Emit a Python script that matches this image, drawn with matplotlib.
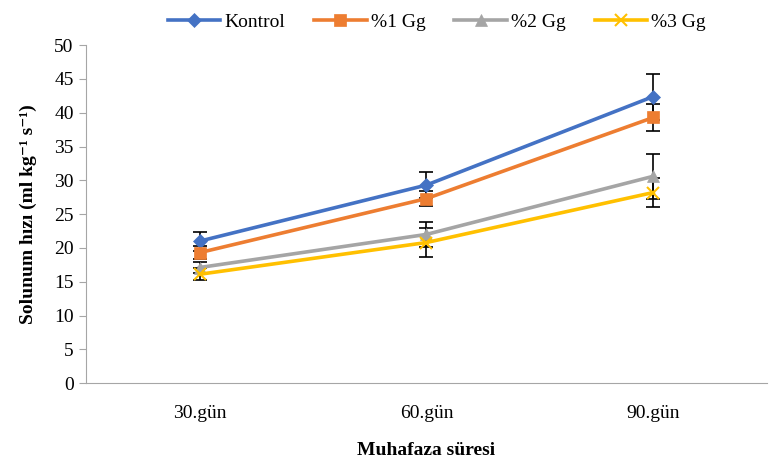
import matplotlib
matplotlib.use("Agg")
import matplotlib.pyplot as plt
import numpy as np

plt.rcParams['font.family'] = ['Liberation Serif', 'DejaVu Serif']

categories = ["30.gün", "60.gün", "90.gün"]
series_names = ["Kontrol", "%1 Gg", "%2 Gg", "%3 Gg"]
kontrol = [21.0, 29.3, 42.4]
gg1 = [19.3, 27.3, 39.3]
gg2 = [17.1, 22.0, 30.6]
gg3 = [16.1, 20.8, 28.2]
kontrol_err = [1.4, 1.9, 3.4]
gg1_err = [1.0, 1.1, 2.0]
gg2_err = [0.8, 1.9, 3.3]
gg3_err = [0.9, 2.1, 2.1]

values = [kontrol, gg1, gg2, gg3]
errors = [kontrol_err, gg1_err, gg2_err, gg3_err]
colors = ["#4472C4", "#ED7D31", "#A5A5A5", "#FFC000"]
markers = ["D", "s", "^", "x"]
msizes = [7, 9, 8, 8]

fs = 14

fig = plt.figure(figsize=(7.69, 4.61), dpi=100)
ax = fig.add_axes([0.112, 0.169, 0.885, 0.733])
x = np.arange(len(categories))

for vals, errs, c, m, ms, name in zip(values, errors, colors, markers, msizes, series_names):
    ax.errorbar(x, vals, yerr=errs, fmt='none', ecolor='black', elinewidth=1.2,
                capsize=5, capthick=1.2, zorder=2)
    ax.plot(x, vals, color=c, linewidth=2.6, marker=m, markersize=ms,
            markeredgewidth=1.5 if m == 'x' else 0.5, markeredgecolor=c,
            label=name, zorder=3)

ax.set_xlim(-0.5, 2.5)
ax.set_ylim(0, 50)
ax.set_yticks(np.arange(0, 51, 5))
ax.set_xticks(x)
ax.set_xticklabels(categories)
ax.tick_params(axis='y', labelsize=fs, length=5, color='#A6A6A6', labelcolor='black', pad=4)
ax.tick_params(axis='x', labelsize=fs, length=0, pad=16, labelcolor='black')
for s in ['top', 'right']:
    ax.spines[s].set_visible(False)
for s in ['left', 'bottom']:
    ax.spines[s].set_color('#A6A6A6')

ax.set_xlabel("Muhafaza süresi", fontsize=fs, fontweight='bold', labelpad=14)
ax.set_ylabel("Solunum hızı (ml kg⁻¹ s⁻¹)", fontsize=fs, fontweight='bold', labelpad=12)

leg = fig.legend(loc='upper center', bbox_to_anchor=(0.568, 1.01), ncol=4, frameon=False,
                 fontsize=fs, handlelength=2.7, columnspacing=1.5, handletextpad=0.2)

fig.savefig("out.png", dpi=100)
